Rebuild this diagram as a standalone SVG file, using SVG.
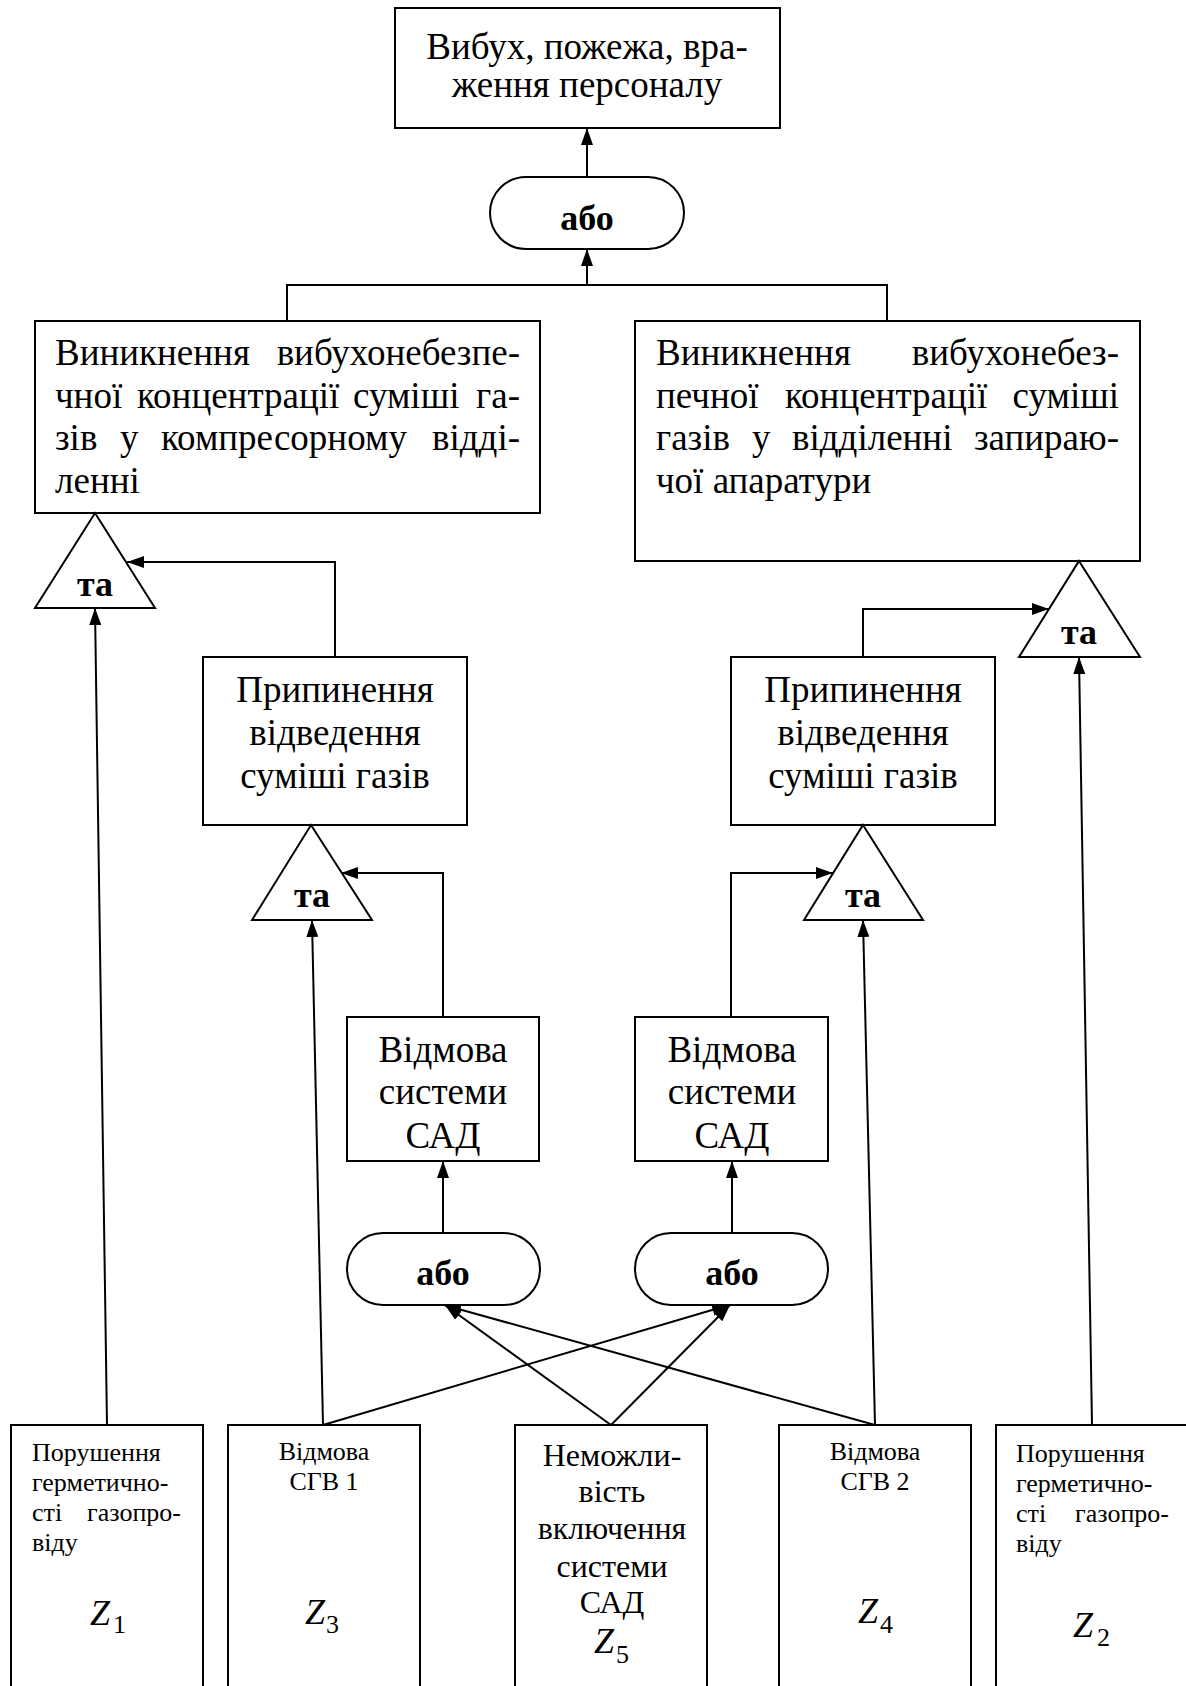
<svg xmlns="http://www.w3.org/2000/svg" width="1186" height="1686" viewBox="0 0 1186 1686">
<style>
.bx{fill:#fff;stroke:#000;stroke-width:2}
.ln{fill:none;stroke:#000;stroke-width:2}
.ar{fill:none;stroke:#000;stroke-width:2;marker-end:url(#ah)}
text{font-family:"Liberation Serif","Times New Roman",serif;fill:#000}
.t37{font-size:37px}
.t32{font-size:32px}
.t26{font-size:26px}
.c{text-anchor:middle}
.e{text-anchor:end}
.g{font-size:36px;font-weight:bold;text-anchor:middle}
.z{font-size:36px;font-style:italic}
.s{font-size:26px}
</style>
<defs>
<marker id="ah" viewBox="0 0 17 12" refX="17" refY="6" markerWidth="17" markerHeight="12" orient="auto" markerUnits="userSpaceOnUse">
<path d="M0,0 L17,6 L0,12 z" fill="#000"/>
</marker>
</defs>

<g id="connectors">
<path class="ar" d="M587,177 L587,128"/>
<path class="ln" d="M287,321 L287,285 L887,285 L887,321"/>
<path class="ar" d="M587,285 L587,249"/>
<path class="ar" d="M107,1425 L95,608"/>
<path class="ar" d="M335,657 L335,562 L127,562"/>
<path class="ar" d="M863,657 L863,609 L1049,609"/>
<path class="ar" d="M1092,1425 L1079,657"/>
<path class="ar" d="M323,1425 L312,920"/>
<path class="ar" d="M443,1017 L443,873 L341,873"/>
<path class="ar" d="M731,1017 L731,873 L833,873"/>
<path class="ar" d="M875,1425 L863,920"/>
<path class="ar" d="M443,1233 L443,1161"/>
<path class="ar" d="M732,1233 L732,1161"/>
<path class="ar" d="M323,1425 L729,1305"/>
<path class="ar" d="M611,1425 L445,1305"/>
<path class="ar" d="M611,1425 L730,1305"/>
<path class="ar" d="M875,1425 L444,1305"/>
</g>

<g id="top">
<rect class="bx" x="395" y="8" width="385" height="120"/>
<text class="t37 c" x="587" y="59">Вибух, пожежа, вра-</text>
<text class="t37 c" x="587" y="97">ження персоналу</text>
</g>

<g id="or-top">
<rect class="bx" x="490" y="177" width="194" height="72" rx="36" ry="36"/>
<text class="g" x="587" y="230">або</text>
</g>

<g id="event-left">
<rect class="bx" x="35" y="321" width="505" height="192"/>
<text class="t37" y="365"><tspan x="55">Виникнення</tspan><tspan x="520" text-anchor="end">вибухонебезпе-</tspan></text>
<text class="t37" y="408"><tspan x="55">чної</tspan><tspan x="137">концентрації</tspan><tspan x="353">суміші</tspan><tspan x="520" text-anchor="end">га-</tspan></text>
<text class="t37" y="450"><tspan x="55">зів</tspan><tspan x="120">у</tspan><tspan x="161">компресорному</tspan><tspan x="520" text-anchor="end">відді-</tspan></text>
<text class="t37" x="55" y="493">ленні</text>
</g>

<g id="event-right">
<rect class="bx" x="635" y="321" width="505" height="240"/>
<text class="t37" y="365"><tspan x="656">Виникнення</tspan><tspan x="1119" text-anchor="end">вибухонебез-</tspan></text>
<text class="t37" y="408"><tspan x="656">печної</tspan><tspan x="785">концентрації</tspan><tspan x="1119" text-anchor="end">суміші</tspan></text>
<text class="t37" y="450"><tspan x="656">газів</tspan><tspan x="752">у</tspan><tspan x="792">відділенні</tspan><tspan x="1119" text-anchor="end">запираю-</tspan></text>
<text class="t37" x="656" y="493">чої апаратури</text>
</g>

<g id="and-1">
<path class="bx" d="M95,513 L155,608 L35,608 Z"/>
<text class="g" x="95" y="596">та</text>
</g>
<g id="and-2">
<path class="bx" d="M1079,561 L1140,657 L1019,657 Z"/>
<text class="g" x="1079" y="644">та</text>
</g>

<g id="stop-left">
<rect class="bx" x="203" y="657" width="264" height="168"/>
<text class="t37 c" x="335" y="702">Припинення</text>
<text class="t37 c" x="335" y="745">відведення</text>
<text class="t37 c" x="335" y="788">суміші газів</text>
</g>
<g id="stop-right">
<rect class="bx" x="731" y="657" width="264" height="168"/>
<text class="t37 c" x="863" y="702">Припинення</text>
<text class="t37 c" x="863" y="745">відведення</text>
<text class="t37 c" x="863" y="788">суміші газів</text>
</g>

<g id="and-3">
<path class="bx" d="M311,825 L372,920 L252,920 Z"/>
<text class="g" x="312" y="907">та</text>
</g>
<g id="and-4">
<path class="bx" d="M863,825 L923,920 L804,920 Z"/>
<text class="g" x="863" y="907">та</text>
</g>

<g id="sad-left">
<rect class="bx" x="347" y="1017" width="192" height="144"/>
<text class="t37 c" x="443" y="1062">Відмова</text>
<text class="t37 c" x="443" y="1104">системи</text>
<text class="t37 c" x="443" y="1148">САД</text>
</g>
<g id="sad-right">
<rect class="bx" x="635" y="1017" width="193" height="144"/>
<text class="t37 c" x="732" y="1062">Відмова</text>
<text class="t37 c" x="732" y="1104">системи</text>
<text class="t37 c" x="732" y="1148">САД</text>
</g>

<g id="or-left">
<rect class="bx" x="347" y="1233" width="193" height="72" rx="36" ry="36"/>
<text class="g" x="443" y="1285">або</text>
</g>
<g id="or-right">
<rect class="bx" x="635" y="1233" width="193" height="72" rx="36" ry="36"/>
<text class="g" x="732" y="1285">або</text>
</g>

<g id="z1">
<rect class="bx" x="11" y="1425" width="192" height="290"/>
<text class="t26" x="32" y="1461">Порушення</text>
<text class="t26" x="32" y="1491">герметично-</text>
<text class="t26" y="1521"><tspan x="32">сті</tspan><tspan x="181" text-anchor="end">газопро-</tspan></text>
<text class="t26" x="32" y="1551">віду</text>
<text class="z" x="90" y="1625">Z</text><text class="s" x="113" y="1633">1</text>
</g>

<g id="z3">
<rect class="bx" x="228" y="1425" width="192" height="290"/>
<text class="t26 c" x="324" y="1460">Відмова</text>
<text class="t26 c" x="324" y="1490">СГВ 1</text>
<text class="z" x="305" y="1624">Z</text><text class="s" x="326" y="1633">3</text>
</g>

<g id="z5">
<rect class="bx" x="515" y="1425" width="192" height="290"/>
<text class="t32 c" x="612" y="1466">Неможли-</text>
<text class="t32 c" x="612" y="1502">вість</text>
<text class="t32 c" x="612" y="1539">включення</text>
<text class="t32 c" x="612" y="1577">системи</text>
<text class="t32 c" x="612" y="1613">САД</text>
<text class="z" x="594" y="1653">Z</text><text class="s" x="616" y="1663">5</text>
</g>

<g id="z4">
<rect class="bx" x="779" y="1425" width="192" height="290"/>
<text class="t26 c" x="875" y="1460">Відмова</text>
<text class="t26 c" x="875" y="1490">СГВ 2</text>
<text class="z" x="858" y="1623">Z</text><text class="s" x="880" y="1633">4</text>
</g>

<g id="z2">
<rect class="bx" x="996" y="1425" width="210" height="290"/>
<text class="t26" x="1016" y="1462">Порушення</text>
<text class="t26" x="1016" y="1492">герметично-</text>
<text class="t26" y="1522"><tspan x="1016">сті</tspan><tspan x="1169" text-anchor="end">газопро-</tspan></text>
<text class="t26" x="1016" y="1552">віду</text>
<text class="z" x="1073" y="1637">Z</text><text class="s" x="1097" y="1646">2</text>
</g>
</svg>
